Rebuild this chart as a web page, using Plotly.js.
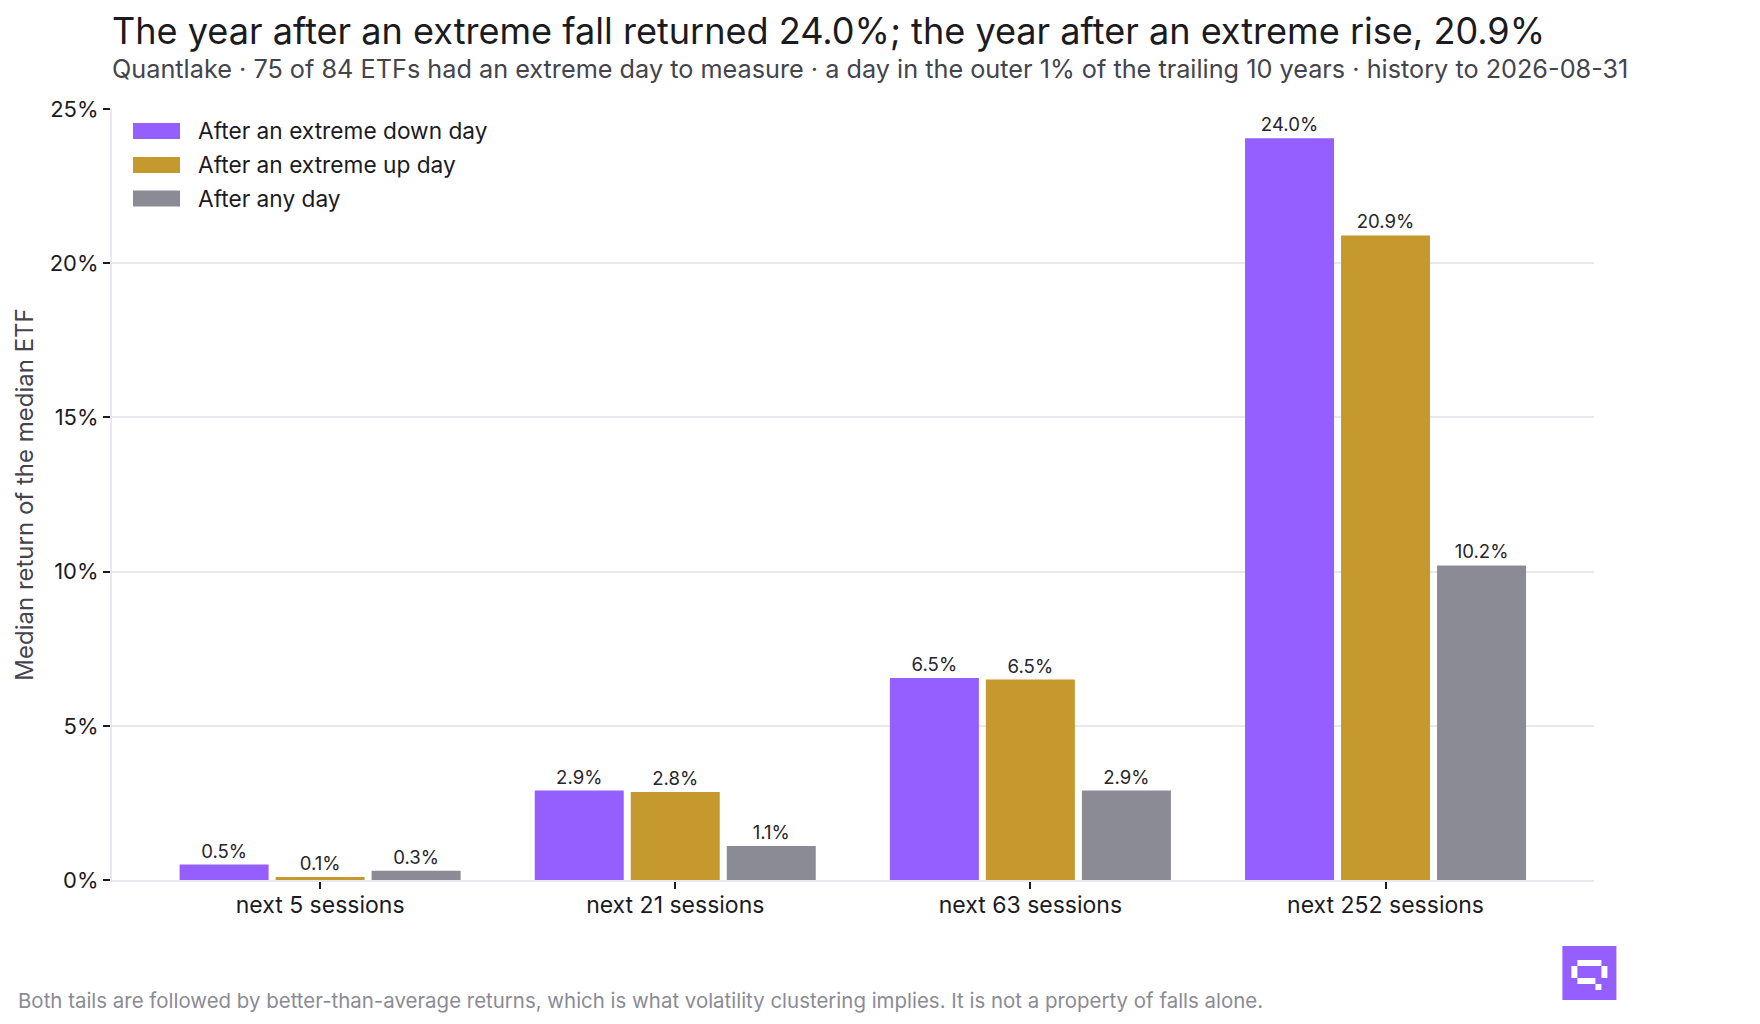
<!DOCTYPE html>
<html><head><meta charset="utf-8">
<script src="https://cdn.plot.ly/plotly-3.0.1.min.js"></script>
<style>html,body{margin:0;padding:0;background:#fff}#c{width:1760px;height:1024px}</style>
</head><body><div id="c"></div>
<script>
const categories = ["next 5 sessions","next 21 sessions","next 63 sessions","next 252 sessions"];
const seriesNames = ["After an extreme down day","After an extreme up day","After any day"];
const downDay = [0.5, 2.9, 6.55, 24.05];
const upDay = [0.1, 2.85, 6.5, 20.9];
const anyDay = [0.3, 1.1, 2.9, 10.2];
const downLabels = ["0.5%","2.9%","6.5%","24.0%"];
const upLabels = ["0.1%","2.8%","6.5%","20.9%"];
const anyLabels = ["0.3%","1.1%","2.9%","10.2%"];
const yTicks = [0,5,10,15,20,25];
const yTickLabels = ["0%","5%","10%","15%","20%","25%"];
const colors = ["#955FFF","#C6992E","#8B8B95"];
const titleText = "The year after an extreme fall returned 24.0%; the year after an extreme rise, 20.9%";
const subtitleText = "Quantlake · 75 of 84 ETFs had an extreme day to measure · a day in the outer 1% of the trailing 10 years · history to 2026-08-31";
const noteText = "Both tails are followed by better-than-average returns, which is what volatility clustering implies. It is not a property of falls alone.";

const W=1760,H=1024,FONT="Inter, sans-serif",INK="#1b1b1f",GRID="#E8E8EE";
const py=y=>1-y/H;
const L=112,R=1593.6,T=109,B=880;

function rectShape(x0,y0,x1,y1,color){
  return {type:"rect",xref:"paper",yref:"paper",layer:"above",x0:(x0-L)/(R-L),x1:(x1-L)/(R-L),
          y0:(B-y0)/(B-T),y1:(B-y1)/(B-T),fillcolor:color,line:{width:0}};
}
function pageNote(text,x,y,size,color){
  return {xref:"paper",yref:"paper",x:(x-L)/(R-L),y:(B-y)/(B-T),xanchor:"left",yanchor:"middle",
          showarrow:false,align:"left",text:text,font:{family:FONT,size:size,color:color}};
}
const series=[downDay,upDay,anyDay], labels=[downLabels,upLabels,anyLabels];
const traces=series.map((v,i)=>({type:"bar",name:seriesNames[i],x:categories,y:v,text:labels[i],
  textposition:"outside",cliponaxis:false,textfont:{family:FONT,size:18.6,color:"#26262b"},
  marker:{color:colors[i],line:{width:0}},hovertemplate:"%{x}<br>%{text}<extra>"+seriesNames[i]+"</extra>"}));

const legendRows=[131,165,198.5];
const shapes=[], annotations=[];
legendRows.forEach((y,i)=>{
  shapes.push(rectShape(133,y-8,180,y+8,colors[i]));
  annotations.push(pageNote(seriesNames[i],195.5,y-0.5,22.7,INK));
});
annotations.push(pageNote(subtitleText,110,69,25.25,"#44444c"));
annotations.push(pageNote(noteText,16,1001,20.45,"#8B8B95"));
// logo
shapes.push(rectShape(1562,946,1616,1000,"#955FFF"));
[[1571,966,1577,978],[1601,966,1607,978],[1577,960,1601,966],[1577,978,1595,984],[1595,984,1601,990]]
  .forEach(r=>shapes.push(rectShape(r[0],r[1],r[2],r[3],"#FFFFFF")));

Plotly.newPlot("c",traces,{
  width:W,height:H,paper_bgcolor:"#fff",plot_bgcolor:"#fff",showlegend:false,
  margin:{l:L,r:W-R,t:T,b:H-B,pad:0},
  font:{family:FONT,color:INK},
  title:{text:titleText,x:0,xanchor:"left",xref:"paper",y:py(31),yanchor:"middle",yref:"container",
         font:{family:FONT,size:36.1,color:INK},automargin:false},
  barmode:"group",bargap:0.189,bargroupgap:0.073,
  xaxis:{type:"category",range:[-0.586,3.587],tickmode:"array",tickvals:categories,ticktext:categories,
    ticks:"outside",ticklen:7,tickwidth:2,tickcolor:INK,showgrid:false,zeroline:false,ticklabelstandoff:-4,
    showline:true,linecolor:GRID,linewidth:2,tickfont:{family:FONT,size:23,color:INK},automargin:false},
  yaxis:{range:[0,25],tickmode:"array",tickvals:yTicks,ticktext:yTickLabels,
    ticks:"outside",ticklen:7,tickwidth:2,tickcolor:INK,showgrid:true,gridcolor:GRID,gridwidth:2,zeroline:false,
    showline:true,linecolor:GRID,linewidth:2,tickfont:{family:FONT,size:22,color:INK},automargin:false,
    title:{text:"Median return of the median ETF",standoff:9,font:{family:FONT,size:24,color:"#44444c"}}},
  shapes:shapes,annotations:annotations
},{displayModeBar:false,responsive:false});
</script></body></html>
